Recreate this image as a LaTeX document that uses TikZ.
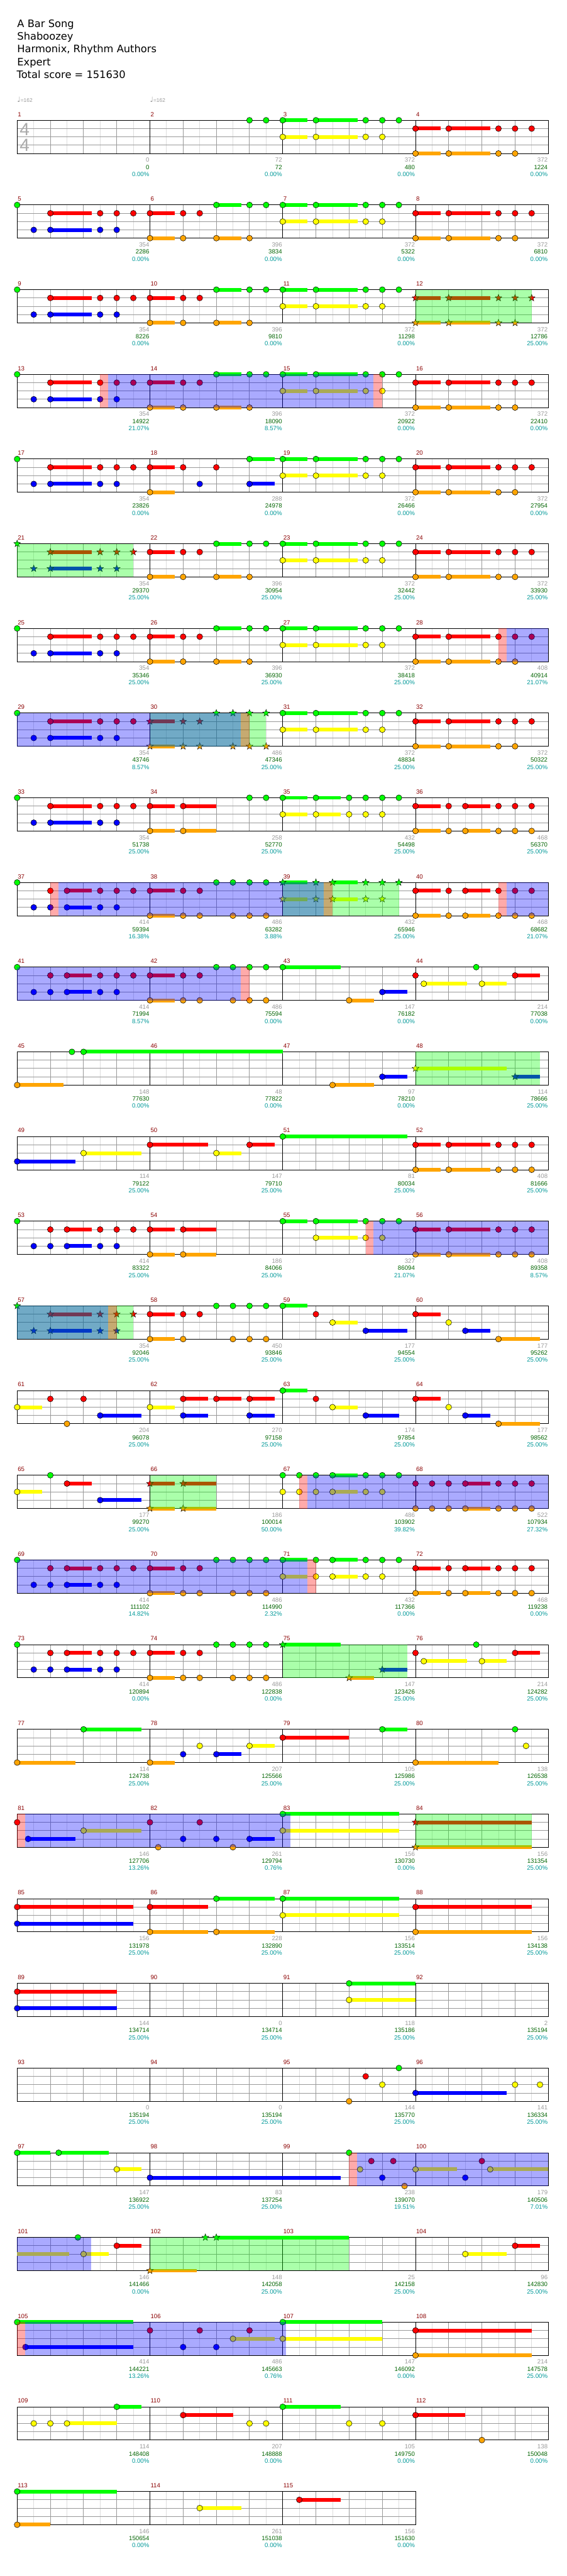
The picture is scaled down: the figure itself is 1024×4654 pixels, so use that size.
\documentclass[tikz,border=0pt]{standalone}
\usepackage{fontspec}
\setmainfont{Liberation Sans}
\newfontfamily\hdr{DejaVu Sans}
\definecolor{lane0}{HTML}{00FF00}
\definecolor{lane1}{HTML}{FF0000}
\definecolor{lane2}{HTML}{FFFF00}
\definecolor{lane3}{HTML}{0000FF}
\definecolor{lane4}{HTML}{FFA500}
\definecolor{mnum}{HTML}{8B0000}
\definecolor{gnum}{HTML}{999999}
\definecolor{cnum}{HTML}{006400}
\definecolor{pnum}{HTML}{009999}
\definecolor{lgrid}{HTML}{DDDDDD}
\definecolor{mgrid}{HTML}{999999}
\definecolor{tsig}{HTML}{AAAAAA}
\newif\ifstr
\tikzset{
 mn/.style={text=mnum,font=\fontsize{11}{11}\selectfont,inner sep=0pt},
 gn/.style={text=gnum,font=\fontsize{11}{11}\selectfont,inner sep=0pt},
 cn/.style={text=cnum,font=\fontsize{11}{11}\selectfont,inner sep=0pt},
 pn/.style={text=pnum,font=\fontsize{11}{11}\selectfont,inner sep=0pt},
 hdrtext/.style={font=\hdr\fontsize{18.5}{18.5}\selectfont,inner sep=0pt,anchor=base west},
 tempo/.style={text=gnum,font=\fontsize{9.5}{9.5}\selectfont,inner sep=0pt,anchor=base west},
 tsnum/.style={text=tsig,font=\fontsize{32}{32}\selectfont,inner sep=0pt},
 notehead/.style={draw=black,line width=0.6pt},
}
\newcommand\starat[3]{\begin{scope}[shift={(#1,#2)}]\filldraw[fill=#3,draw=black,line width=0.5pt] (90:6.5pt)--(126:2.7pt)--(162:6.5pt)--(198:2.7pt)--(234:6.5pt)--(270:2.7pt)--(306:6.5pt)--(342:2.7pt)--(18:6.5pt)--(54:2.7pt)--cycle;\end{scope}}
\newcommand\nts[4]{\foreach \pp in {#4}{%
 \pgfmathsetmacro\xx{31+60*(#2+\pp)}%
 \pgfmathsetmacro\yy{217.3+153*(#1-1)+15*#3}%
 \ifstr\starat{\xx}{\yy}{lane#3}\else\filldraw[notehead,fill=lane#3] (\xx,\yy) circle[radius=5.3pt];\fi}}
\newcommand\sus[4]{\foreach \sa/\sb in {#4}{%
 \pgfmathsetmacro\xa{31+60*(#2+\sa)}\pgfmathsetmacro\xb{31+60*(#2+\sb)}%
 \pgfmathsetmacro\yy{217.3+153*(#1-1)+15*#3}%
 \fill[lane#3] (\xa,\yy-3.4) rectangle (\xb,\yy+3.4);}}
\newcommand\ovl[4]{%
 \pgfmathsetmacro\xa{31+60*(#2)}\pgfmathsetmacro\xb{31+60*(#3)}\pgfmathsetmacro\yy{217.3+153*(#1-1)}%
 \fill[#4,opacity=0.333] (\xa,\yy) rectangle (\xb,\yy+60);}
\newcommand\ovg[3]{\ovl{#1}{#2}{#3}{lane0}}
\newcommand\ovb[3]{\ovl{#1}{#2}{#3}{lane3}}
\newcommand\ovr[3]{\ovl{#1}{#2}{#3}{lane1}}
\newcommand\stf[2]{%
 \pgfmathsetmacro\yy{217.3+153*(#1-1)}%
 \pgfmathsetmacro\xe{31+240*#2}%
 \pgfmathtruncatemacro\ne{8*#2-1}%
 \pgfmathtruncatemacro\nb{4*#2-1}%
 \pgfmathtruncatemacro\nm{#2-1}%
 \foreach \k in {1,...,\ne}{\draw[lgrid,line width=1pt] (31+30*\k,\yy) -- (31+30*\k,\yy+60);}
 \foreach \k in {1,...,\nb}{\draw[mgrid,line width=1pt] (31+60*\k,\yy) -- (31+60*\k,\yy+60);}
 \foreach \l in {1,2,3}{\draw[mgrid,line width=1pt] (31,\yy+15*\l) -- (\xe,\yy+15*\l);}
 \foreach \k in {1,...,\nm}{\draw[black,line width=1pt] (31+240*\k,\yy) -- (31+240*\k,\yy+60);}
 \draw[black,line width=1pt] (31,\yy) rectangle (\xe,\yy+60);}
\newcommand\mtxt[4]{%
 \pgfmathtruncatemacro\rr{floor((#1-1)/4)+1}%
 \pgfmathtruncatemacro\ii{mod(#1-1,4)}%
 \pgfmathsetmacro\yy{217.3+153*(\rr-1)}%
 \pgfmathsetmacro\xs{31+240*\ii}%
 \node[mn,anchor=base west] (mn#1) at (\xs+1,\yy-7) {#1};
 \node[gn,anchor=base east] (gn#1) at (\xs+239,\yy+75.7) {#2};
 \node[cn,anchor=base east] (cn#1) at (\xs+239,\yy+88.7) {#3};
 \node[pn,anchor=base east] (pn#1) at (\xs+239,\yy+101.5) {#4\%};}
\newcommand\PA[2]{\sus{#1}{#2}{0}{0/0.75,1/2.25}\sus{#1}{#2}{2}{0/0.75,1/2.25}\nts{#1}{#2}{0}{0,1,2.5,3,3.5}\nts{#1}{#2}{2}{0,1,2.5,3}}
\newcommand\PB[2]{\sus{#1}{#2}{1}{0/0.75,1/2.25}\sus{#1}{#2}{4}{0/0.75,1/2.25}\nts{#1}{#2}{1}{0,1,2.5,3,3.5}\nts{#1}{#2}{4}{0,1,2.5,3}}
\newcommand\PC[2]{\sus{#1}{#2}{1}{1/2.25}\sus{#1}{#2}{3}{1/2.25}\nts{#1}{#2}{0}{0}\nts{#1}{#2}{1}{1,2.5,3,3.5}\nts{#1}{#2}{3}{0.5,1,2.5,3}}
\newcommand\PD[2]{\sus{#1}{#2}{1}{0/0.75}\sus{#1}{#2}{4}{0/0.75,2/2.75}\sus{#1}{#2}{0}{2/2.75}\nts{#1}{#2}{1}{0,1,1.5}\nts{#1}{#2}{4}{0,1,2,3}\nts{#1}{#2}{0}{2,3,3.5}}
\newcommand\PE[2]{\sus{#1}{#2}{1}{0/0.75}\sus{#1}{#2}{4}{0/0.75}\nts{#1}{#2}{1}{0,1,1.5}\nts{#1}{#2}{4}{0,1,1.5,2.5,3,3.5}\nts{#1}{#2}{0}{2,2.5,3,3.5}}
\newcommand\PF[2]{\sus{#1}{#2}{0}{0/0.75,1/1.75}\sus{#1}{#2}{2}{0/0.75,1/1.75}\nts{#1}{#2}{0}{0,1,2,2.5,3,3.5}\nts{#1}{#2}{2}{0,1,2,2.5,3}}
\newcommand\PG[2]{\sus{#1}{#2}{1}{0/0.75,1.5/2.25}\sus{#1}{#2}{4}{0/0.75,1.5/2.25}\nts{#1}{#2}{1}{0,1,1.5,2.5,3,3.5}\nts{#1}{#2}{4}{0,1,1.5,2.5,3,3.5}}
\newcommand\PH[2]{\sus{#1}{#2}{1}{1.5/2.25}\sus{#1}{#2}{3}{1.5/2.25}\nts{#1}{#2}{0}{0}\nts{#1}{#2}{1}{1,1.5,2.5,3,3.5}\nts{#1}{#2}{3}{0.5,1,1.5,2.5,3}}
\newcommand\PI[2]{\sus{#1}{#2}{0}{0/0.75,1.5/2.25}\sus{#1}{#2}{2}{0/0.75,1.5/2.25}\nts{#1}{#2}{0}{0,1,1.5,2.5,3,3.5}\nts{#1}{#2}{2}{0,1,1.5,2.5,3}}
\newcommand\PJ[2]{\sus{#1}{#2}{1}{3/3.75}\sus{#1}{#2}{2}{0.25/1.55,2/2.75}\nts{#1}{#2}{1}{0,3}\nts{#1}{#2}{2}{0.25,2}\nts{#1}{#2}{0}{1.83}}
\newcommand\PK[2]{\sus{#1}{#2}{1}{0/0.75,1/2.25}\sus{#1}{#2}{4}{0/0.75,1/2.25}\nts{#1}{#2}{1}{0,1,2.5,3,3.5}\nts{#1}{#2}{4}{0,1,2.5,3,3.5}}
\newcommand\PM[2]{\sus{#1}{#2}{1}{0/0.75}\nts{#1}{#2}{1}{0}\nts{#1}{#2}{2}{1}\sus{#1}{#2}{3}{1.5/2.25}\nts{#1}{#2}{3}{1.5}\sus{#1}{#2}{4}{2.5/3.75}\nts{#1}{#2}{4}{2.5}}
\begin{document}
\begin{tikzpicture}[x=1pt,y=-1pt]
\useasboundingbox (0,0) rectangle (1024,4654);
\fill[white] (0,0) rectangle (1024,4654);
\node[hdrtext] (title) at (31,49) {A Bar Song};
\node[hdrtext] (artist) at (31,72.3) {Shaboozey};
\node[hdrtext] (charter) at (31,95) {Harmonix, Rhythm Authors};
\node[hdrtext] (diff) at (31,118.3) {Expert};
\node[hdrtext] (total) at (30,141) {Total score = 151630};
\node[tempo] (tempo1) at (31,184.5) {{\hdr\fontsize{13}{13}\selectfont ♩}=162};
\node[tempo] (tempo2) at (271,184.5) {{\hdr\fontsize{13}{13}\selectfont ♩}=162};
\foreach \r in {1,...,28}{\stf{\r}{4}}
\stf{29}{3}
\node[tsnum] (tsa) at (44.5,233.8) {4};
\node[tsnum] (tsb) at (44.5,262.8) {4};
% row 1
\nts{1}{4}{0}{3,3.5}\PA{1}{8}\PB{1}{12}
% row 2
\PC{2}{0}\PD{2}{4}\PA{2}{8}\PB{2}{12}
% row 3
\PC{3}{0}\PD{3}{4}\PA{3}{8}{\strtrue\PB{3}{12}}
\ovg{3}{12}{15.5}
% row 4
\PC{4}{0}\PD{4}{4}\PA{4}{8}\PB{4}{12}
\ovb{4}{2.74}{10.73}\ovr{4}{2.5}{2.74}\ovr{4}{10.73}{11}
% row 5
\PC{5}{0}
\sus{5}{4}{1}{0/0.75}\nts{5}{4}{1}{0,1,2}\sus{5}{4}{4}{0/0.75}\nts{5}{4}{4}{0}
\sus{5}{4}{3}{3/3.75}\nts{5}{4}{3}{1.5,3}\sus{5}{4}{0}{3/3.75}\nts{5}{4}{0}{3}
\PA{5}{8}\PB{5}{12}
% row 6
{\strtrue\PC{6}{0}}\PD{6}{4}\PA{6}{8}\PB{6}{12}
\ovg{6}{0}{3.5}
% row 7
\PC{7}{0}\PD{7}{4}\PA{7}{8}\PB{7}{12}
\ovb{7}{14.74}{16}\ovr{7}{14.5}{14.74}
% row 8
\PC{8}{0}{\strtrue\PE{8}{4}}\PA{8}{8}\PB{8}{12}
\ovg{8}{4}{7.5}\ovb{8}{0}{6.73}\ovr{8}{6.73}{7}
% row 9
\PC{9}{0}
\sus{9}{4}{1}{0/0.75,1/2}\nts{9}{4}{1}{0,1}\sus{9}{4}{4}{0/0.75,1/2}\nts{9}{4}{4}{0,1}\nts{9}{4}{0}{3,3.5}
\PF{9}{8}\PG{9}{12}
% row 10
\PH{10}{0}\PE{10}{4}{\strtrue\PI{10}{8}}\PG{10}{12}
\ovg{10}{8}{11.5}\ovb{10}{1.24}{9.24}\ovb{10}{14.74}{16}
\ovr{10}{1}{1.24}\ovr{10}{9.24}{9.5}\ovr{10}{14.5}{14.74}
% row 11
\PH{11}{0}\PE{11}{4}
\sus{11}{8}{0}{0/1.75}\nts{11}{8}{0}{0}\sus{11}{8}{4}{2/2.75}\nts{11}{8}{4}{2}\sus{11}{8}{3}{3/3.75}\nts{11}{8}{3}{3}
\PJ{11}{12}
\ovb{11}{0}{6.73}\ovr{11}{6.73}{7}
% row 12
\sus{12}{0}{4}{0/1.4}\nts{12}{0}{4}{0}\nts{12}{0}{0}{1.65}\sus{12}{0}{0}{2/8}\nts{12}{0}{0}{2}
\sus{12}{8}{4}{1.5/2.75}\nts{12}{8}{4}{1.5}\sus{12}{8}{3}{3/3.75}\nts{12}{8}{3}{3}
{\strtrue\sus{12}{12}{2}{0/2.75}\nts{12}{12}{2}{0}\sus{12}{12}{3}{3/3.75}\nts{12}{12}{3}{3}}
\ovg{12}{12}{15.75}
% row 13
\sus{13}{0}{3}{0/1.75}\nts{13}{0}{3}{0}\sus{13}{0}{2}{2/3.75}\nts{13}{0}{2}{2}
\sus{13}{4}{1}{0/1.75,3/3.75}\nts{13}{4}{1}{0,3}\sus{13}{4}{2}{2/2.75}\nts{13}{4}{2}{2}
\sus{13}{8}{0}{0/3.75}\nts{13}{8}{0}{0}
\PK{13}{12}
% row 14
\PH{14}{0}
\sus{14}{4}{1}{0/0.75,1/2}\nts{14}{4}{1}{0,1}\sus{14}{4}{4}{0/0.75,1/2}\nts{14}{4}{4}{0,1}
\sus{14}{8}{0}{0/0.75,1/2.25}\nts{14}{8}{0}{0,1,2.5,3,3.5}\sus{14}{8}{2}{1/2.25}\nts{14}{8}{2}{1,2.5,3}
\PK{14}{12}
\ovb{14}{10.74}{16}\ovr{14}{10.5}{10.74}
% row 15
{\strtrue\PC{15}{0}}
\sus{15}{4}{1}{0/0.75}\nts{15}{4}{1}{0,1,1.5}\sus{15}{4}{4}{0/0.75}\nts{15}{4}{4}{0,1,2.5,3,3.5}\nts{15}{4}{0}{2,2.5,3,3.5}
\sus{15}{8}{0}{0/0.75}\nts{15}{8}{0}{0}\nts{15}{8}{1}{1}\sus{15}{8}{2}{1.5/2.25}\nts{15}{8}{2}{1.5}\sus{15}{8}{3}{2.5/3.75}\nts{15}{8}{3}{2.5}
\PM{15}{12}
\ovg{15}{0}{3.5}\ovb{15}{0}{2.74}\ovr{15}{2.74}{3}
% row 16
\sus{16}{0}{2}{0/0.75}\nts{16}{0}{2}{0}\nts{16}{0}{1}{1,2}\nts{16}{0}{4}{1.5}\sus{16}{0}{3}{2.5/3.75}\nts{16}{0}{3}{2.5}
\sus{16}{4}{2}{0/0.75}\nts{16}{4}{2}{0}\sus{16}{4}{1}{1/1.75,2/2.75,3/3.75}\nts{16}{4}{1}{1,2,3}\sus{16}{4}{3}{1/1.75,3/3.75}\nts{16}{4}{3}{1,3}
\sus{16}{8}{0}{0/0.75}\nts{16}{8}{0}{0}\nts{16}{8}{1}{1}\sus{16}{8}{2}{1.5/2.25}\nts{16}{8}{2}{1.5}\sus{16}{8}{3}{2.5/3.5}\nts{16}{8}{3}{2.5}
\PM{16}{12}
% row 17
\sus{17}{0}{2}{0/0.75}\nts{17}{0}{2}{0}\nts{17}{0}{0}{1}\sus{17}{0}{1}{1.5/2.25}\nts{17}{0}{1}{1.5}\sus{17}{0}{3}{2.5/3.75}\nts{17}{0}{3}{2.5}
{\strtrue\sus{17}{4}{1}{0/0.75,1/2}\nts{17}{4}{1}{0,1}\sus{17}{4}{4}{0/0.75,1/2}\nts{17}{4}{4}{0,1}}
\sus{17}{8}{0}{1.5/2.25}\nts{17}{8}{0}{0,0.5,1,1.5,2.5,3,3.5}\sus{17}{8}{2}{1.5/2.25}\nts{17}{8}{2}{0,0.5,1,1.5,2.5,3}
\sus{17}{12}{1}{1.5/2.25}\nts{17}{12}{1}{0,0.5,1,1.5,2.5,3,3.5}\sus{17}{12}{4}{1.5/2.25}\nts{17}{12}{4}{0,0.5,1,1.5,2.5,3,3.5}
\ovg{17}{4}{6}\ovb{17}{8.74}{16}\ovr{17}{8.5}{8.74}
% row 18
\PH{18}{0}\PE{18}{4}\PI{18}{8}\PG{18}{12}
\ovb{18}{0}{8.74}\ovr{18}{8.74}{9}
% row 19
\PH{19}{0}\PE{19}{4}
{\strtrue\sus{19}{8}{0}{0/1.75}\nts{19}{8}{0}{0}\sus{19}{8}{4}{2/2.75}\nts{19}{8}{4}{2}\sus{19}{8}{3}{3/3.75}\nts{19}{8}{3}{3}}
\PJ{19}{12}
\ovg{19}{8}{11.75}
% row 20
\sus{20}{0}{4}{0/1.75}\nts{20}{0}{4}{0}\sus{20}{0}{0}{2/3.75}\nts{20}{0}{0}{2}
\sus{20}{4}{4}{0/0.75}\nts{20}{4}{4}{0}\sus{20}{4}{3}{2/2.75}\nts{20}{4}{3}{1,2}\sus{20}{4}{2}{3/3.75}\nts{20}{4}{2}{1.5,3}
\sus{20}{8}{1}{0/2}\nts{20}{8}{1}{0}\sus{20}{8}{0}{3/3.75}\nts{20}{8}{0}{3}
\sus{20}{12}{4}{0/2.5}\nts{20}{12}{4}{0}\nts{20}{12}{0}{3}\nts{20}{12}{2}{3.33}
% row 21
\nts{21}{0}{1}{0}\sus{21}{0}{3}{0.33/1.75}\nts{21}{0}{3}{0.33}\sus{21}{0}{2}{2/3.75}\nts{21}{0}{2}{2}
\nts{21}{4}{1}{0,1.5}\sus{21}{4}{3}{3/3.75}\nts{21}{4}{3}{1,2,3}\nts{21}{4}{4}{0.25,2.5}
\sus{21}{8}{0}{0/3.5}\nts{21}{8}{0}{0}\sus{21}{8}{2}{0/3.5}\nts{21}{8}{2}{0}
{\strtrue\sus{21}{12}{1}{0/3.5}\nts{21}{12}{1}{0}\sus{21}{12}{4}{0/3.5}\nts{21}{12}{4}{0}}
\ovg{21}{12}{15.5}\ovb{21}{0.24}{8.24}\ovr{21}{0}{0.24}
% row 22
\sus{22}{0}{1}{0/3.5}\nts{22}{0}{1}{0}\sus{22}{0}{3}{0/3.5}\nts{22}{0}{3}{0}
\sus{22}{4}{1}{0/1.75}\nts{22}{4}{1}{0}\sus{22}{4}{4}{0/1.75,2/3.75}\nts{22}{4}{4}{0,2}\sus{22}{4}{0}{2/3.75}\nts{22}{4}{0}{2}
\sus{22}{8}{0}{0/3.5}\nts{22}{8}{0}{0}\sus{22}{8}{2}{0/3.5}\nts{22}{8}{2}{0}
\sus{22}{12}{1}{0/3.5}\nts{22}{12}{1}{0}\sus{22}{12}{4}{0/3.5}\nts{22}{12}{4}{0}
% row 23
\sus{23}{0}{1}{0/3}\nts{23}{0}{1}{0}\sus{23}{0}{3}{0/3}\nts{23}{0}{3}{0}
\sus{23}{8}{0}{2/4}\nts{23}{8}{0}{2}\sus{23}{8}{2}{2/4}\nts{23}{8}{2}{2}
% row 24
\nts{24}{8}{4}{2}\nts{24}{8}{1}{2.5}\nts{24}{8}{2}{3}\nts{24}{8}{0}{3.5}
\sus{24}{12}{3}{0/2.75}\nts{24}{12}{3}{0}\nts{24}{12}{2}{3,3.75}
% row 25
\sus{25}{0}{0}{0/1,1.25/2.75}\nts{25}{0}{0}{0,1.25}\sus{25}{0}{2}{3/3.75}\nts{25}{0}{2}{3}
\sus{25}{4}{3}{0/5.75}\nts{25}{4}{3}{0}
\nts{25}{8}{0}{2}\nts{25}{8}{2}{2.33}\nts{25}{8}{1}{2.67,3.33}\nts{25}{8}{3}{3}\nts{25}{8}{4}{3.67}
\sus{25}{12}{2}{0/1.25,2.25/4}\nts{25}{12}{2}{0,2.25}\nts{25}{12}{3}{1.5}\nts{25}{12}{1}{2}
\ovb{25}{10.24}{16}\ovr{25}{10}{10.24}
% row 26
\sus{26}{0}{2}{0/1.56}\nts{26}{0}{0}{1.83}\sus{26}{0}{2}{2/2.75}\nts{26}{0}{2}{2}\sus{26}{0}{1}{3/3.75}\nts{26}{0}{1}{3}
{\strtrue\sus{26}{4}{0}{2/6}\nts{26}{4}{0}{1.67,2}\sus{26}{4}{4}{0/1.42}\nts{26}{4}{4}{0}}
\sus{26}{12}{2}{1.5/2.75}\nts{26}{12}{2}{1.5}\sus{26}{12}{1}{3/3.75}\nts{26}{12}{1}{3}
\ovg{26}{4}{10}\ovb{26}{0}{2.23}
% row 27 (approximate)
\sus{27}{0}{0}{0/3.5}\nts{27}{0}{0}{0}\sus{27}{0}{3}{0.25/3.5}\nts{27}{0}{3}{0.25}
\nts{27}{4}{1}{0,1.5,3}\nts{27}{4}{3}{1,2}\sus{27}{4}{2}{2.5/3.75}\nts{27}{4}{2}{2.5}
\sus{27}{8}{0}{0/3}\nts{27}{8}{0}{0}\sus{27}{8}{2}{0/3}\nts{27}{8}{2}{0}
\sus{27}{12}{1}{0/3.5}\nts{27}{12}{1}{0}\sus{27}{12}{4}{0/3.5}\nts{27}{12}{4}{0}
\ovb{27}{0.24}{8.1}\ovr{27}{0}{0.24}
% row 28 (approximate)
\nts{28}{0}{2}{0.5,1}\sus{28}{0}{2}{1.5/3}\nts{28}{0}{2}{1.5}\sus{28}{0}{0}{3/3.75}\nts{28}{0}{0}{3}
\sus{28}{4}{1}{1/2.5}\nts{28}{4}{1}{1}\nts{28}{4}{2}{3,3.5}
\sus{28}{8}{0}{0/1.75}\nts{28}{8}{0}{0}\nts{28}{8}{2}{2,3}
\sus{28}{12}{1}{0/1.5}\nts{28}{12}{1}{0}\nts{28}{12}{4}{2}
% row 29 (approximate)
\sus{29}{0}{0}{0/3}\nts{29}{0}{0}{0}\sus{29}{0}{4}{0/1}\nts{29}{0}{4}{0}
\sus{29}{4}{2}{1.5/2.75}\nts{29}{4}{2}{1.5}
\sus{29}{8}{1}{0.5/1.75}\nts{29}{8}{1}{0.5}
% texts
\mtxt{1}{0}{0}{0.00}\mtxt{2}{72}{72}{0.00}\mtxt{3}{372}{480}{0.00}\mtxt{4}{372}{1224}{0.00}
\mtxt{5}{354}{2286}{0.00}\mtxt{6}{396}{3834}{0.00}\mtxt{7}{372}{5322}{0.00}\mtxt{8}{372}{6810}{0.00}
\mtxt{9}{354}{8226}{0.00}\mtxt{10}{396}{9810}{0.00}\mtxt{11}{372}{11298}{0.00}\mtxt{12}{372}{12786}{25.00}
\mtxt{13}{354}{14922}{21.07}\mtxt{14}{396}{18090}{8.57}\mtxt{15}{372}{20922}{0.00}\mtxt{16}{372}{22410}{0.00}
\mtxt{17}{354}{23826}{0.00}\mtxt{18}{288}{24978}{0.00}\mtxt{19}{372}{26466}{0.00}\mtxt{20}{372}{27954}{0.00}
\mtxt{21}{354}{29370}{25.00}\mtxt{22}{396}{30954}{25.00}\mtxt{23}{372}{32442}{25.00}\mtxt{24}{372}{33930}{25.00}
\mtxt{25}{354}{35346}{25.00}\mtxt{26}{396}{36930}{25.00}\mtxt{27}{372}{38418}{25.00}\mtxt{28}{408}{40914}{21.07}
\mtxt{29}{354}{43746}{8.57}\mtxt{30}{486}{47346}{25.00}\mtxt{31}{372}{48834}{25.00}\mtxt{32}{372}{50322}{25.00}
\mtxt{33}{354}{51738}{25.00}\mtxt{34}{258}{52770}{25.00}\mtxt{35}{432}{54498}{25.00}\mtxt{36}{468}{56370}{25.00}
\mtxt{37}{414}{59394}{16.38}\mtxt{38}{486}{63282}{3.88}\mtxt{39}{432}{65946}{25.00}\mtxt{40}{468}{68682}{21.07}
\mtxt{41}{414}{71994}{8.57}\mtxt{42}{486}{75594}{0.00}\mtxt{43}{147}{76182}{0.00}\mtxt{44}{214}{77038}{0.00}
\mtxt{45}{148}{77630}{0.00}\mtxt{46}{48}{77822}{0.00}\mtxt{47}{97}{78210}{0.00}\mtxt{48}{114}{78666}{25.00}
\mtxt{49}{114}{79122}{25.00}\mtxt{50}{147}{79710}{25.00}\mtxt{51}{81}{80034}{25.00}\mtxt{52}{408}{81666}{25.00}
\mtxt{53}{414}{83322}{25.00}\mtxt{54}{186}{84066}{25.00}\mtxt{55}{327}{86094}{21.07}\mtxt{56}{408}{89358}{8.57}
\mtxt{57}{354}{92046}{25.00}\mtxt{58}{450}{93846}{25.00}\mtxt{59}{177}{94554}{25.00}\mtxt{60}{177}{95262}{25.00}
\mtxt{61}{204}{96078}{25.00}\mtxt{62}{270}{97158}{25.00}\mtxt{63}{174}{97854}{25.00}\mtxt{64}{177}{98562}{25.00}
\mtxt{65}{177}{99270}{25.00}\mtxt{66}{186}{100014}{50.00}\mtxt{67}{486}{103902}{39.82}\mtxt{68}{522}{107934}{27.32}
\mtxt{69}{414}{111102}{14.82}\mtxt{70}{486}{114990}{2.32}\mtxt{71}{432}{117366}{0.00}\mtxt{72}{468}{119238}{0.00}
\mtxt{73}{414}{120894}{0.00}\mtxt{74}{486}{122838}{0.00}\mtxt{75}{147}{123426}{25.00}\mtxt{76}{214}{124282}{25.00}
\mtxt{77}{114}{124738}{25.00}\mtxt{78}{207}{125566}{25.00}\mtxt{79}{105}{125986}{25.00}\mtxt{80}{138}{126538}{25.00}
\mtxt{81}{146}{127706}{13.26}\mtxt{82}{261}{129794}{0.76}\mtxt{83}{156}{130730}{0.00}\mtxt{84}{156}{131354}{25.00}
\mtxt{85}{156}{131978}{25.00}\mtxt{86}{228}{132890}{25.00}\mtxt{87}{156}{133514}{25.00}\mtxt{88}{156}{134138}{25.00}
\mtxt{89}{144}{134714}{25.00}\mtxt{90}{0}{134714}{25.00}\mtxt{91}{118}{135186}{25.00}\mtxt{92}{2}{135194}{25.00}
\mtxt{93}{0}{135194}{25.00}\mtxt{94}{0}{135194}{25.00}\mtxt{95}{144}{135770}{25.00}\mtxt{96}{141}{136334}{25.00}
\mtxt{97}{147}{136922}{25.00}\mtxt{98}{83}{137254}{25.00}\mtxt{99}{238}{139070}{19.51}\mtxt{100}{179}{140506}{7.01}
\mtxt{101}{146}{141466}{0.00}\mtxt{102}{148}{142058}{25.00}\mtxt{103}{25}{142158}{25.00}\mtxt{104}{96}{142830}{25.00}
\mtxt{105}{414}{144221}{13.26}\mtxt{106}{486}{145663}{0.76}\mtxt{107}{147}{146092}{0.00}\mtxt{108}{214}{147578}{25.00}
\mtxt{109}{114}{148408}{0.00}\mtxt{110}{207}{148888}{0.00}\mtxt{111}{105}{149750}{0.00}\mtxt{112}{138}{150048}{0.00}
\mtxt{113}{146}{150654}{0.00}\mtxt{114}{261}{151038}{0.00}\mtxt{115}{156}{151630}{0.00}
\end{tikzpicture}
\end{document}
